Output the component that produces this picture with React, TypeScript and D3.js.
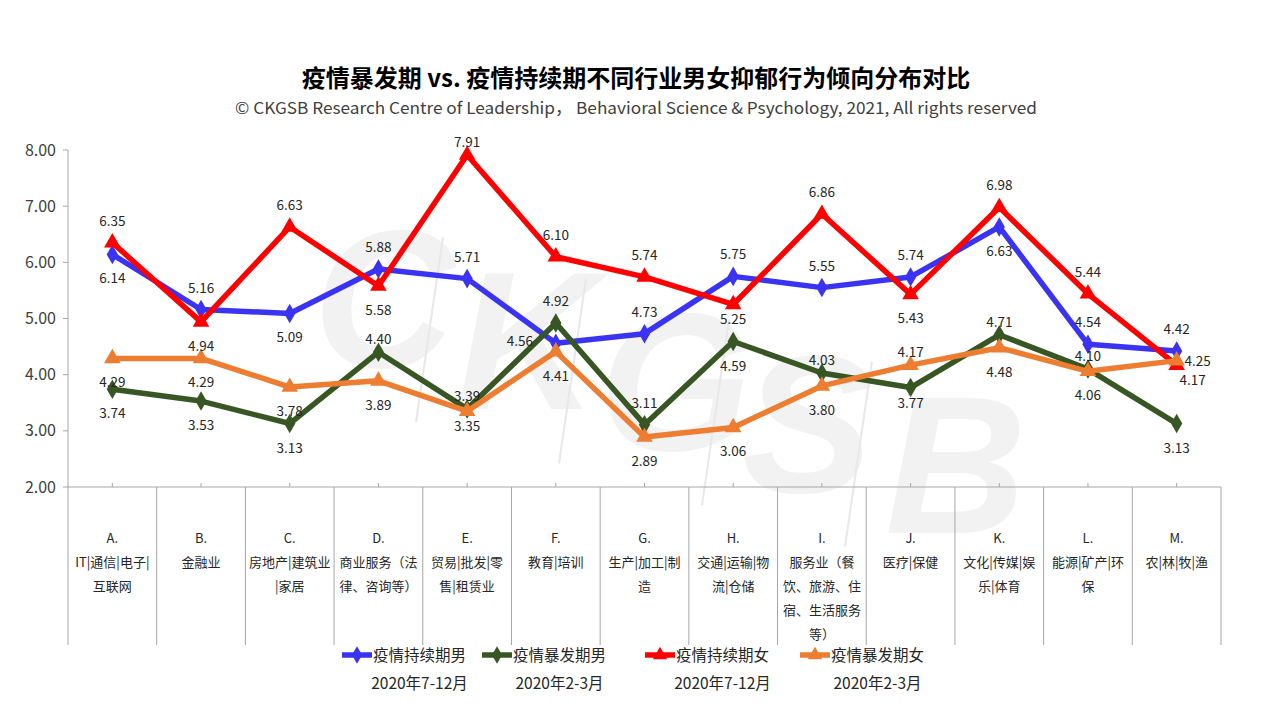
import React, { useEffect, useRef } from 'react';
import * as d3 from 'd3';

const categories = ['A', 'B', 'C', 'D', 'E', 'F', 'G', 'H', 'I', 'J', 'K', 'L', 'M'];

const categoryLines: string[][] = [
  ['A.', 'IT|通信|电子|', '互联网'],
  ['B.', '金融业'],
  ['C.', '房地产|建筑业', '|家居'],
  ['D.', '商业服务（法', '律、咨询等）'],
  ['E.', '贸易|批发|零', '售|租赁业'],
  ['F.', '教育|培训'],
  ['G.', '生产|加工|制', '造'],
  ['H.', '交通|运输|物', '流|仓储'],
  ['I.', '服务业（餐', '饮、旅游、住', '宿、生活服务', '等）'],
  ['J.', '医疗|保健'],
  ['K.', '文化|传媒|娱', '乐|体育'],
  ['L.', '能源|矿产|环', '保'],
  ['M.', '农|林|牧|渔'],
];

const maleLater = [6.14, 5.16, 5.09, 5.88, 5.71, 4.56, 4.73, 5.75, 5.55, 5.74, 6.63, 4.54, 4.42];
const maleOutbreak = [3.74, 3.53, 3.13, 4.40, 3.39, 4.92, 3.11, 4.59, 4.03, 3.77, 4.71, 4.10, 3.13];
const femaleLater = [6.35, 4.94, 6.63, 5.58, 7.91, 6.10, 5.74, 5.25, 6.86, 5.43, 6.98, 5.44, 4.17];
const femaleOutbreak = [4.29, 4.29, 3.78, 3.89, 3.35, 4.41, 2.89, 3.06, 3.80, 4.17, 4.48, 4.06, 4.25];

const seriesNames = ['疫情持续期男', '疫情暴发期男', '疫情持续期女', '疫情暴发期女'];
const seriesPeriods = ['2020年7-12月', '2020年2-3月', '2020年7-12月', '2020年2-3月'];

const yTicks = [2, 3, 4, 5, 6, 7, 8];

const watermarkLetters = ['C', 'K', 'G', 'S', 'B'];

// label placement codes: a above, b below, n near above, m near below, l left, r right, s right-below
const labelPlace = [
  'babaalaaaabaa',
  'bbbnnaabnmnnb',
  'ababnaamabaas',
  'bbbbmbbbbnbbr',
];

const W = 1267;
const H = 713;
const FONT = '"Noto Sans CJK SC", "Noto Sans", sans-serif';

const Chart: React.FC = () => {
  const svgRef = useRef<SVGSVGElement>(null);

  useEffect(() => {
    if (!svgRef.current) return;
    const svg = d3.select(svgRef.current);
    svg.selectAll('*').remove();

    const left = 68;
    const right = 1221;
    const top = 150;
    const bottom = 487;
    const catBottom = 645;

    const x = d3.scaleBand<string>().domain(categories).range([left, right]).padding(0);
    const cx = (c: string) => (x(c) as number) + x.bandwidth() / 2;
    const y = d3.scaleLinear().domain([2, 8]).range([bottom, top]);

    svg.append('rect').attr('width', W).attr('height', H).attr('fill', '#ffffff');

    // watermark
    const wm = svg.append('g');
    watermarkLetters.forEach((ch, i) => {
      const wx = 313 + i * 143;
      const wy = 367 + i * 41.5;
      wm.append('text')
        .attr('x', wx)
        .attr('y', wy)
        .attr('font-family', '"Liberation Sans", sans-serif')
        .attr('font-style', 'italic')
        .attr('font-weight', 'bold')
        .attr('font-size', 196)
        .attr('fill', '#f2f2f2')
        .text(ch);
      if (i < watermarkLetters.length - 1) {
        wm.append('line')
          .attr('x1', wx + 130)
          .attr('y1', wy - 130)
          .attr('x2', wx + 103)
          .attr('y2', wy + 55)
          .attr('stroke', '#e8e8e8')
          .attr('stroke-width', 2);
      }
    });

    // title
    svg.append('text')
      .attr('x', 636)
      .attr('y', 87)
      .attr('text-anchor', 'middle')
      .attr('font-family', FONT)
      .attr('font-weight', 'bold')
      .attr('font-size', 24)
      .attr('fill', '#000')
      .text('疫情暴发期 vs. 疫情持续期不同行业男女抑郁行为倾向分布对比');

    svg.append('text')
      .attr('x', 636)
      .attr('y', 114)
      .attr('text-anchor', 'middle')
      .attr('font-family', FONT)
      .attr('font-size', 16.5)
      .attr('fill', '#404040')
      .attr('textLength', 802)
      .attr('lengthAdjust', 'spacingAndGlyphs')
      .text('©  CKGSB Research Centre of Leadership，  Behavioral Science & Psychology, 2021, All rights reserved');

    // y axis
    const axisColor = '#a6a6a6';
    svg.append('line')
      .attr('x1', left).attr('x2', left)
      .attr('y1', top).attr('y2', bottom)
      .attr('stroke', axisColor).attr('stroke-width', 1);

    yTicks.forEach((t) => {
      svg.append('line')
        .attr('x1', left - 5).attr('x2', left)
        .attr('y1', y(t)).attr('y2', y(t))
        .attr('stroke', axisColor);
      svg.append('text')
        .attr('x', 56)
        .attr('y', y(t) + 5.5)
        .attr('text-anchor', 'end')
        .attr('font-family', FONT)
        .attr('font-size', 16)
        .attr('fill', '#404040')
        .text(d3.format('.2f')(t));
    });

    // x axis with category dividers
    svg.append('line')
      .attr('x1', left).attr('x2', right)
      .attr('y1', bottom).attr('y2', bottom)
      .attr('stroke', axisColor);

    categories.forEach((c, i) => {
      const bx = x(c) as number;
      svg.append('line')
        .attr('x1', bx).attr('x2', bx)
        .attr('y1', bottom).attr('y2', catBottom)
        .attr('stroke', axisColor);
      svg.append('line')
        .attr('x1', cx(c)).attr('x2', cx(c))
        .attr('y1', bottom - 4).attr('y2', bottom)
        .attr('stroke', axisColor);
      categoryLines[i].forEach((ln, j) => {
        svg.append('text')
          .attr('x', cx(c))
          .attr('y', 543 + j * 24)
          .attr('text-anchor', 'middle')
          .attr('font-family', FONT)
          .attr('font-size', 13)
          .attr('fill', '#262626')
          .text(ln);
      });
    });
    svg.append('line')
      .attr('x1', right).attr('x2', right)
      .attr('y1', bottom).attr('y2', catBottom)
      .attr('stroke', axisColor);

    // series
    const series = [maleLater, maleOutbreak, femaleLater, femaleOutbreak];
    const colors = ['#3a33f2', '#375623', '#ff0000', '#ed7d31'];
    const shapes = [d3.symbolDiamond, d3.symbolDiamond, d3.symbolTriangle, d3.symbolTriangle];
    const line = d3.line<number>()
      .x((_, i) => cx(categories[i]))
      .y((d) => y(d));

    series.forEach((vals, s) => {
      const g = svg.append('g');
      g.append('path')
        .datum(vals)
        .attr('d', line)
        .attr('fill', 'none')
        .attr('stroke', colors[s])
        .attr('stroke-width', 5.5)
        .attr('stroke-linejoin', 'round');
      const sym = d3.symbol().type(shapes[s]).size(shapes[s] === d3.symbolDiamond ? 110 : 120);
      vals.forEach((v, i) => {
        g.append('path')
          .attr('d', sym() as string)
          .attr('transform', `translate(${cx(categories[i])},${y(v)})`)
          .attr('fill', colors[s]);
      });
    });

    // data labels
    series.forEach((vals, s) => {
      vals.forEach((v, i) => {
        const px = cx(categories[i]);
        const py = y(v);
        const code = labelPlace[s][i];
        let lx = px;
        let ly = py;
        if (code === 'a') ly = py - 22;
        else if (code === 'b') ly = py + 24;
        else if (code === 'n') ly = py - 13;
        else if (code === 'm') ly = py + 15;
        else if (code === 'l') { lx = px - 36; ly = py - 2; }
        else if (code === 'r') { lx = px + 21; }
        else if (code === 's') { lx = px + 16; ly = py + 15; }
        svg.append('text')
          .attr('x', lx)
          .attr('y', ly + 5)
          .attr('text-anchor', 'middle')
          .attr('font-family', FONT)
          .attr('font-size', 13.5)
          .attr('fill', '#262626')
          .text(d3.format('.2f')(v));
      });
    });

    // legend
    const legendX = [342, 482, 645, 800];
    const ly1 = 655;
    const ly2 = 683;
    seriesNames.forEach((name, s) => {
      const lx = legendX[s];
      svg.append('line')
        .attr('x1', lx).attr('x2', lx + 30)
        .attr('y1', ly1).attr('y2', ly1)
        .attr('stroke', colors[s])
        .attr('stroke-width', 5.5);
      const sym = d3.symbol().type(shapes[s]).size(90);
      svg.append('path')
        .attr('d', sym() as string)
        .attr('transform', `translate(${lx + 15},${ly1})`)
        .attr('fill', colors[s]);
      const t = svg.append('text')
        .attr('x', lx + 31)
        .attr('y', ly1 + 5.5)
        .attr('font-family', FONT)
        .attr('font-size', 15.5)
        .attr('fill', '#262626')
        .text(name);
      const tw = (t.node() as SVGTextElement).getComputedTextLength();
      svg.append('text')
        .attr('x', lx + 31 + tw / 2)
        .attr('y', ly2 + 5.5)
        .attr('text-anchor', 'middle')
        .attr('font-family', FONT)
        .attr('font-size', 15.5)
        .attr('fill', '#262626')
        .text(seriesPeriods[s]);
    });
  }, []);

  return (
    <svg
      ref={svgRef}
      width={W}
      height={H}
      style={{ position: 'absolute', left: 0, top: 0, display: 'block' }}
    />
  );
};

export default function App() {
  return <Chart />;
}
